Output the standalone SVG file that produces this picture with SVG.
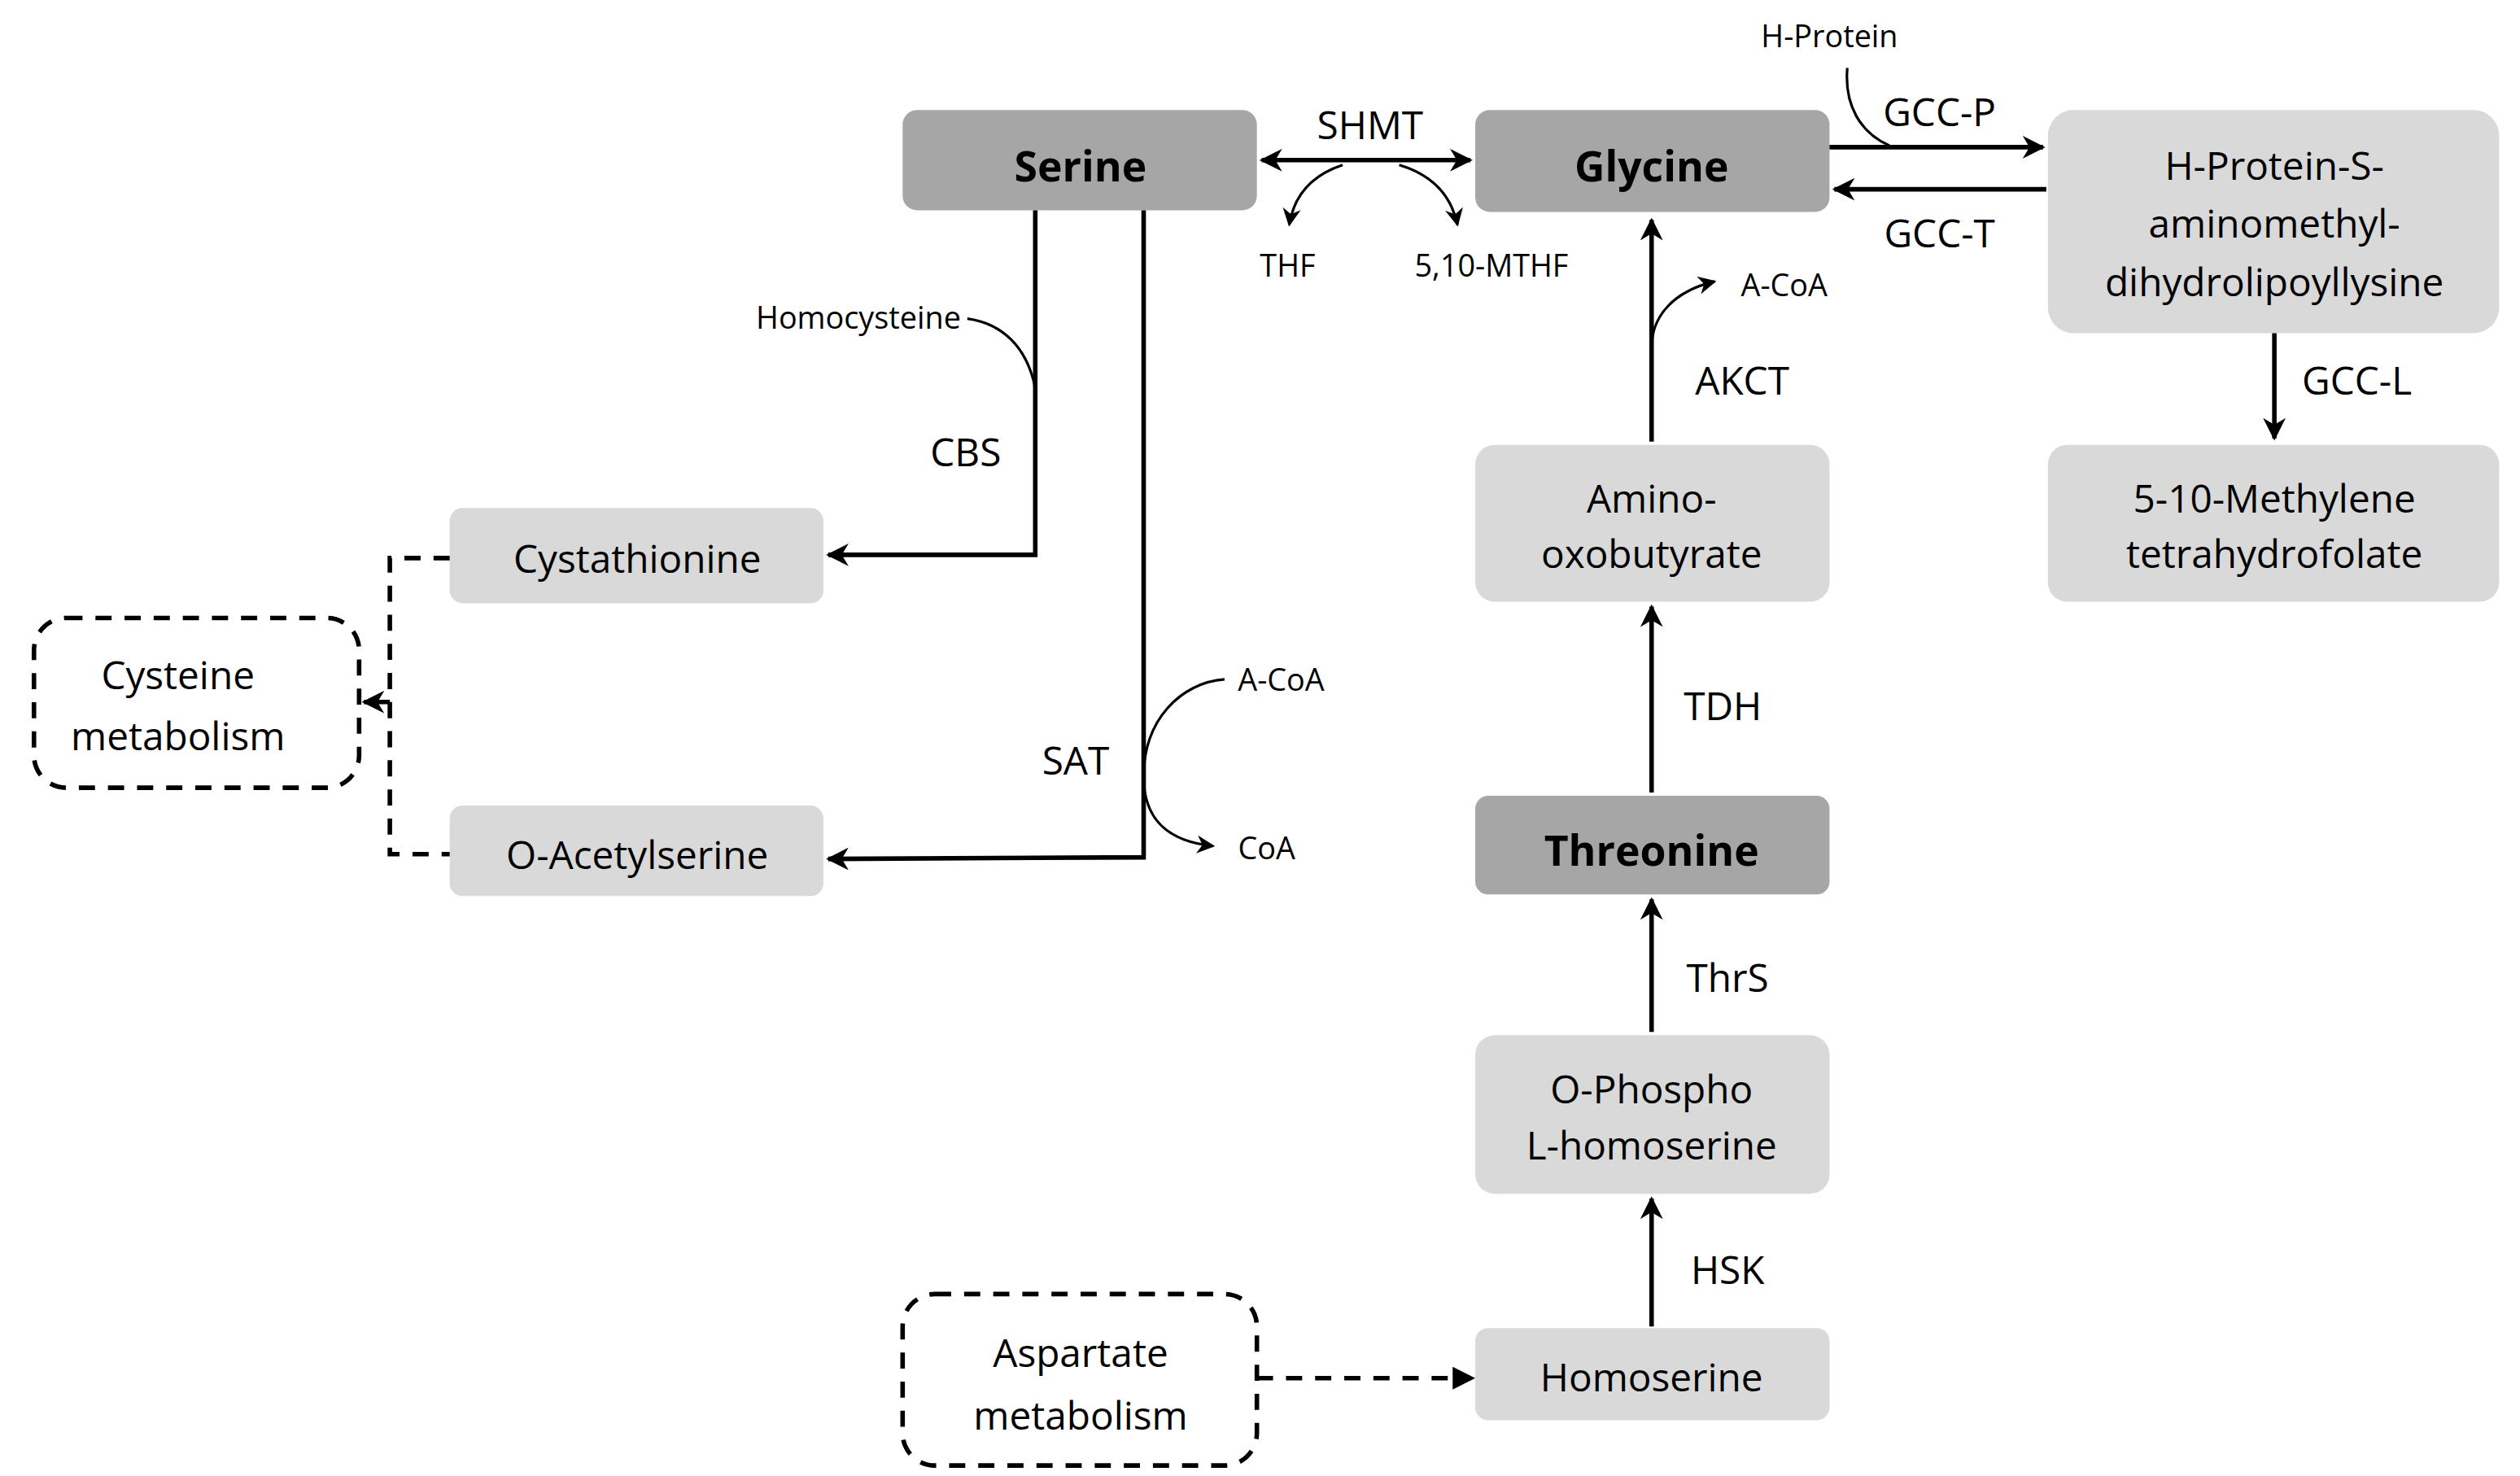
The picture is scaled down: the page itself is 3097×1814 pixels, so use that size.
<svg xmlns="http://www.w3.org/2000/svg" width="3097" height="1814" viewBox="0 0 3097 1814">
<defs>
<style>
.dk{fill:#a6a6a6}.lt{fill:#d9d9d9}
.t{font-family:"Liberation Sans Narrow","Open Sans","Liberation Sans",sans-serif;font-size:24px;fill:#000;text-anchor:middle}
.b{font-weight:bold;font-size:26px}
.s{font-size:19px}
.ln{fill:none;stroke:#000;stroke-width:2.8}
.th{fill:none;stroke:#000;stroke-width:1.6}
.ds{fill:none;stroke:#000;stroke-width:2.8;stroke-dasharray:10,8}
</style>
<marker id="a" viewBox="0 0 10 10" refX="9" refY="5" markerWidth="5" markerHeight="5" orient="auto-start-reverse" markerUnits="strokeWidth"><path d="M0,0 L10,5 L0,10 L3,5 Z" fill="#000"/></marker>
<marker id="s" viewBox="0 0 10 10" refX="9" refY="5" markerWidth="7" markerHeight="7" orient="auto" markerUnits="strokeWidth"><path d="M0,0 L10,5 L0,10 L3,5 Z" fill="#000"/></marker>
</defs>
<rect width="3097" height="1814" fill="#fff"/>
<g transform="scale(1.988)">
<g id="serine"><rect class="dk" x="558" y="68" width="219" height="62" rx="9"/><text class="t b" x="668" y="112">Serine</text></g>
<g id="glycine"><rect class="dk" x="912" y="68" width="219" height="63" rx="9"/><text class="t b" x="1021" y="112">Glycine</text></g>
<g id="hprotein"><rect class="lt" x="1266" y="68" width="279" height="138" rx="16"/><text class="t" x="1406" y="111">H-Protein-S-</text><text class="t" x="1406" y="147">aminomethyl-</text><text class="t" x="1406" y="183">dihydrolipoyllysine</text></g>
<g id="methylene"><rect class="lt" x="1266" y="275" width="279" height="97" rx="12"/><text class="t" x="1406" y="317">5-10-Methylene</text><text class="t" x="1406" y="351">tetrahydrofolate</text></g>
<g id="amino"><rect class="lt" x="912" y="275" width="219" height="97" rx="12"/><text class="t" x="1021" y="317">Amino-</text><text class="t" x="1021" y="351">oxobutyrate</text></g>
<g id="threonine"><rect class="dk" x="912" y="492" width="219" height="61" rx="8"/><text class="t b" x="1021" y="535">Threonine</text></g>
<g id="ophospho"><rect class="lt" x="912" y="640" width="219" height="98" rx="12"/><text class="t" x="1021" y="682">O-Phospho</text><text class="t" x="1021" y="717">L-homoserine</text></g>
<g id="homoserine"><rect class="lt" x="912" y="821" width="219" height="57" rx="8"/><text class="t" x="1021" y="860">Homoserine</text></g>
<g id="aspartate"><rect class="ds" x="558" y="800" width="219" height="106" rx="20"/><text class="t" x="668" y="845">Aspartate</text><text class="t" x="668" y="884">metabolism</text></g>
<g id="cystathionine"><rect class="lt" x="278" y="314" width="231" height="59" rx="8"/><text class="t" x="394" y="354">Cystathionine</text></g>
<g id="oacetylserine"><rect class="lt" x="278" y="498" width="231" height="56" rx="8"/><text class="t" x="394" y="537">O-Acetylserine</text></g>
<g id="cysteine"><rect class="ds" x="21" y="382" width="201" height="105" rx="20"/><text class="t" x="110" y="426">Cysteine</text><text class="t" x="110" y="464">metabolism</text></g>
<g id="connectors">
<path class="ln" d="M780,99 H909" marker-start="url(#a)" marker-end="url(#a)"/>
<text class="t" x="847" y="86">SHMT</text>
<path class="th" d="M830,102 C812,108 800,120 797,139" marker-end="url(#s)"/>
<path class="th" d="M865,102 C885,108 897,120 901,139" marker-end="url(#s)"/>
<text class="t s" x="796" y="171">THF</text>
<text class="t s" x="922" y="171">5,10-MTHF</text>
<path class="ln" d="M1131,91 H1263" marker-end="url(#a)"/>
<path class="ln" d="M1265,117 H1134" marker-end="url(#a)"/>
<path class="th" d="M1142,42 C1140,65 1150,82 1168,90"/>
<text class="t s" x="1131" y="29">H-Protein</text>
<text class="t" x="1199" y="78">GCC-P</text>
<text class="t" x="1199" y="153">GCC-T</text>
<path class="ln" d="M1406,206 V271" marker-end="url(#a)"/>
<text class="t" x="1457" y="244">GCC-L</text>
<path class="ln" d="M1021,273 V136" marker-end="url(#a)"/>
<path class="th" d="M1021,215 C1021,195 1035,180 1060,174" marker-end="url(#s)"/>
<text class="t s" x="1103" y="183">A-CoA</text>
<text class="t" x="1077" y="244">AKCT</text>
<path class="ln" d="M1021,490 V375" marker-end="url(#a)"/>
<text class="t" x="1065" y="445">TDH</text>
<path class="ln" d="M1021,638 V556" marker-end="url(#a)"/>
<text class="t" x="1068" y="613">ThrS</text>
<path class="ln" d="M1021,820 V741" marker-end="url(#a)"/>
<text class="t" x="1068" y="794">HSK</text>
<path class="ds" d="M777,852 H900"/>
<path d="M898,845 L912,852 L898,859 Z" fill="#000"/>
<path class="ln" d="M640,130 V343 H512" marker-end="url(#a)"/>
<text class="t" x="597" y="288">CBS</text>
<text class="t s" x="594" y="203" style="text-anchor:end">Homocysteine</text>
<path class="th" d="M598,197 C620,200 635,215 640,240"/>
<path class="ln" d="M707,130 V530 L512,531" marker-end="url(#a)"/>
<text class="t" x="665" y="479">SAT</text>
<path class="th" d="M757,420 C730,422 707,445 707,480 C707,505 720,520 750,523" marker-end="url(#s)"/>
<text class="t s" x="792" y="427">A-CoA</text>
<text class="t s" x="783" y="531">CoA</text>
<path class="ds" d="M278,345 H241 V528 H278"/>
<path class="ln" d="M241,434 H225" marker-end="url(#a)"/>
</g>
</g>
</svg>
